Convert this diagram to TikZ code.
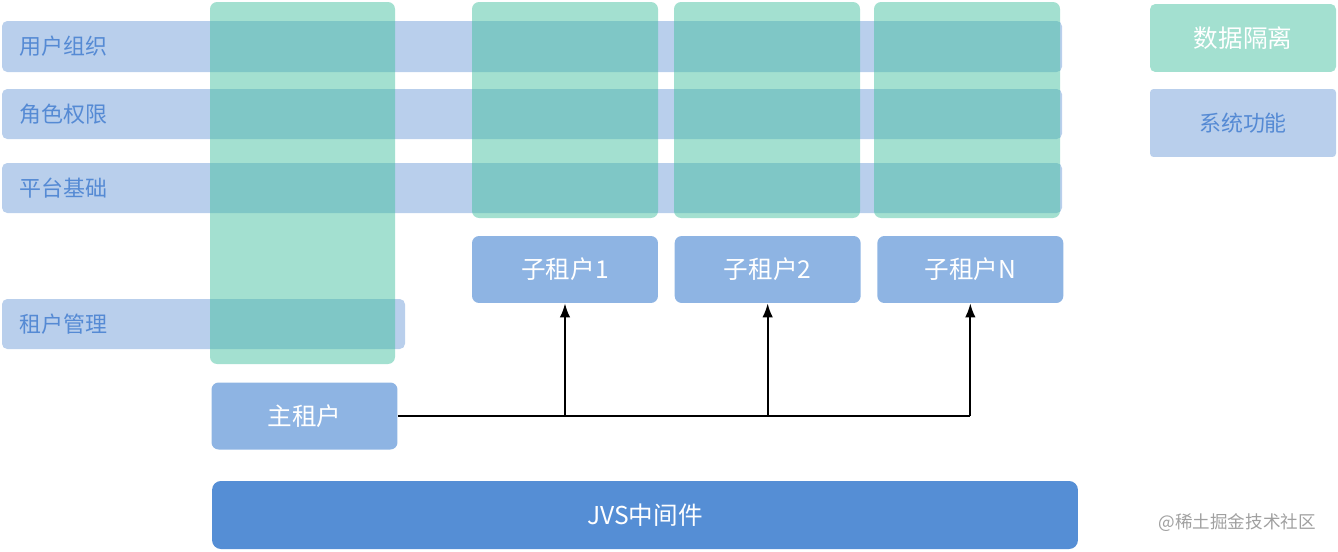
\documentclass[tikz,border=0pt]{standalone}
\usepackage{fontspec}
\setmainfont{Noto Sans CJK SC}
\usetikzlibrary{positioning,arrows.meta}
\definecolor{sysBlue}{RGB}{185,207,236}
\definecolor{sysText}{RGB}{85,138,212}
\definecolor{isoGreen}{RGB}{71,193,161}
\definecolor{tenantBlue}{RGB}{142,180,227}
\definecolor{coreBlue}{RGB}{85,142,213}
\definecolor{markGray}{RGB}{160,160,160}

\begin{document}
\begin{tikzpicture}[x=0.02cm, y=-0.02cm, >={Latex[length=2.8mm,width=2.1mm]}]
  \useasboundingbox (0,0) rectangle (1338,551);
  \tikzset{
    sysrow/.style={fill=sysBlue, rounded corners=3pt},
    rowlabel/.style={anchor=west, text=sysText, font=\fontsize{12.5}{14}\selectfont, inner sep=0pt},
    isocol/.style={fill=isoGreen, fill opacity=0.5, rounded corners=4pt},
    tenant/.style={fill=tenantBlue, rectangle, rounded corners=4pt, minimum width=3.72cm, minimum height=1.34cm, text=white, font=\fontsize{14}{16}\selectfont}
  }

  % system function rows
  \fill[sysrow] (2,21) rectangle (1062,72);
  \fill[sysrow] (2,89) rectangle (1062,139);
  \fill[sysrow] (2,163) rectangle (1062,213);
  \fill[sysrow] (2,299) rectangle (405,349);
  \node[rowlabel] (org) at (19,46.5) {用户组织};
  \node[rowlabel] (role) at (19,114) {角色权限};
  \node[rowlabel] (base) at (19,188) {平台基础};
  \node[rowlabel] (mgmt) at (19,324) {租户管理};

  % data isolation columns
  \fill[isocol] (210,2) rectangle (395,364);
  \fill[isocol] (472,2) rectangle (658,218);
  \fill[isocol] (674,2) rectangle (860,218);
  \fill[isocol] (874,2) rectangle (1060,218);

  % legend
  \node[fill=isoGreen!50, rounded corners=3pt, minimum width=3.72cm, minimum height=1.36cm, text=white, font=\fontsize{14}{16}\selectfont] (legiso) at (1243,38) {数据隔离};
  \node[fill=sysBlue, rounded corners=2pt, minimum width=3.72cm, minimum height=1.36cm, text=sysText, font=\fontsize{12.5}{14}\selectfont] (legsys) at (1243,123) {系统功能};

  % tenants
  \node[tenant] (sub1) at (565,269.5) {子租户1};
  \node[tenant, right=0.32cm of sub1] (sub2) {子租户2};
  \node[tenant, right=0.32cm of sub2] (subN) {子租户N};
  \node[tenant] (main) at (304.5,416) {主租户};

  \node[fill=coreBlue, rounded corners=5pt, minimum width=17.32cm, minimum height=1.36cm, text=white, font=\fontsize{14}{16}\selectfont] (jvs) at (645,515) {JVS中间件};

  \draw[line width=1.1pt] (main.east) -- (subN.south |- main.east);
  \draw[->, line width=1.1pt] (sub1.south |- main.east) -- (sub1.south);
  \draw[->, line width=1.1pt] (sub2.south |- main.east) -- (sub2.south);
  \draw[->, line width=1.1pt] (subN.south |- main.east) -- (subN.south);

  \node[text=markGray, font=\fontsize{10}{12}\selectfont, anchor=east] (mark) at (1322,523) {@稀土掘金技术社区};
\end{tikzpicture}
\end{document}
